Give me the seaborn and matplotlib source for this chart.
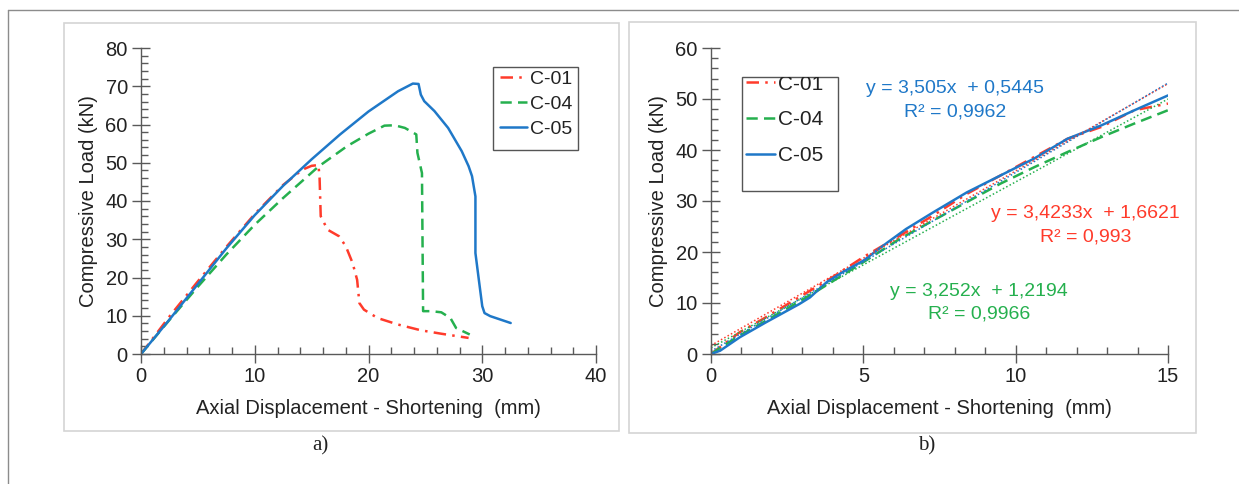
import numpy as np
import pandas as pd
import matplotlib
matplotlib.use("Agg")
import matplotlib.pyplot as plt
from matplotlib.lines import Line2D
from matplotlib.patches import Rectangle
from matplotlib.ticker import MultipleLocator
import seaborn as sns

# ---------------- data ----------------
specimens = ["C-01", "C-04", "C-05"]

# panel a) full curves
c01_x = [0, 2.5, 5.0, 7.5, 10.0, 12.5, 14.2, 15.0, 15.6, 15.7, 15.8, 16.4, 17.4, 18.0, 18.6, 19.0, 19.2, 19.6, 20.8, 22.6, 24.6, 26.4, 28.8]
c01_y = [0, 9.8, 19.0, 28.0, 36.6, 44.2, 48.2, 49.2, 49.4, 46.0, 36.0, 32.5, 30.8, 28.2, 23.8, 19.4, 13.3, 11.6, 9.4, 7.7, 6.2, 5.3, 4.2]

c04_x = [0, 2.5, 5.0, 7.5, 10.0, 12.5, 15.6, 18.1, 20.0, 21.4, 22.3, 23.2, 24.2, 24.3, 24.7, 24.8, 25.5, 26.4, 27.2, 27.7, 28.9]
c04_y = [0, 8.9, 17.6, 26.0, 33.8, 40.8, 49.0, 54.3, 57.6, 59.7, 59.8, 59.1, 57.4, 52.6, 47.3, 11.2, 11.2, 10.9, 9.4, 6.8, 5.1]

c05_x = [0, 2.5, 5.0, 7.5, 10.0, 12.5, 15.0, 17.5, 20.0, 22.6, 23.9, 24.4, 24.6, 24.9, 25.8, 27.0, 28.2, 28.8, 29.1, 29.4, 29.4, 29.7, 30.0, 30.2, 30.7, 32.5]
c05_y = [0, 9.0, 18.3, 27.6, 36.3, 44.0, 50.9, 57.4, 63.4, 68.7, 70.7, 70.6, 67.8, 66.1, 63.5, 59.1, 53.0, 49.1, 46.5, 41.2, 26.4, 19.4, 12.5, 10.7, 9.9, 8.1]

# panel b) linear part (0-15 mm)
b01_x = [0, 0.95, 1.8, 3.25, 4.0, 5.0, 6.2, 7.3, 8.4, 9.5, 10.6, 11.7, 12.8, 13.9, 15.0]
b01_y = [0, 4.3, 7.2, 12.4, 15.1, 19.0, 23.2, 27.2, 31.4, 35.0, 38.6, 42.2, 44.5, 47.8, 49.1]

b04_x = [0, 0.9, 1.8, 3.25, 5.0, 6.2, 7.3, 8.4, 9.5, 10.6, 11.7, 12.8, 13.9, 15.0]
b04_y = [0, 3.5, 6.5, 11.5, 18.0, 22.6, 26.2, 29.8, 33.4, 36.6, 39.6, 42.5, 45.2, 47.8]

b05_x = [0, 0.3, 0.95, 1.8, 2.9, 3.25, 3.8, 4.3, 5.0, 5.8, 6.4, 7.3, 8.4, 9.5, 10.6, 11.7, 12.8, 13.9, 15.0]
b05_y = [0, 0.65, 3.3, 6.2, 9.8, 11.1, 14.1, 16.0, 18.3, 21.9, 24.5, 27.8, 31.7, 35.0, 38.3, 42.2, 44.8, 47.8, 50.7]

# trendline coefficients (as printed on the chart)
trend_slope = [3.4233, 3.252, 3.505]
trend_icpt = [1.6621, 1.2194, 0.5445]
trend_eq = ["y = 3,4233x  + 1,6621", "y = 3,252x  + 1,2194", "y = 3,505x  + 0,5445"]
trend_r2 = ["R² = 0,993", "R² = 0,9966", "R² = 0,9962"]

# ---------------- style ----------------
sns.set_theme(style="white")
plt.rcParams["font.family"] = ["Liberation Sans", "DejaVu Sans"]

red = "#FF3B2B"
green = "#25B04E"
blue = "#1F78C8"
colors = [red, green, blue]
dashes = [(0, (5, 2.5, 1, 2.5)), (0, (4.5, 2.5)), "-"]
axis_col = "#595959"
txt_col = "#222222"
FS = 14.5

fig = plt.figure(figsize=(12.39, 4.84), dpi=100)
W, H = 1239, 484

def px(x0, y0, x1, y1):
    return [x0 / W, 1 - y1 / H, (x1 - x0) / W, (y1 - y0) / H]

# outer frame lines
fig.add_artist(Line2D([8 / W, 1.0], [1 - 9.5 / H, 1 - 9.5 / H], color="#8c8c8c", lw=1.0))
fig.add_artist(Line2D([8 / W, 8 / W], [0, 1 - 9.5 / H], color="#8c8c8c", lw=1.0))
# panel boxes
for (x0, y0, x1, y1) in [(64, 22.5, 619, 431), (629, 21.5, 1196, 433)]:
    fig.add_artist(Rectangle((x0 / W, 1 - y1 / H), (x1 - x0) / W, (y1 - y0) / H,
                             transform=fig.transFigure, fill=False, ec="#d4d4d4", lw=1.2))

AX_A = (141, 48, 596, 354)
AX_B = (711, 48, 1168, 354)
axA = fig.add_axes(px(*AX_A))
axB = fig.add_axes(px(*AX_B))

def frac(box, x, y):
    x0, y0, x1, y1 = box
    return (x - x0) / (x1 - x0), 1 - (y - y0) / (y1 - y0)

def frame(ax):
    for s in ["top", "right"]:
        ax.spines[s].set_visible(False)
    for s in ["left", "bottom"]:
        ax.spines[s].set_color(axis_col)
        ax.spines[s].set_linewidth(1.0)
    ax.tick_params(which="major", direction="inout", length=13, width=1.0, color=axis_col,
                   labelsize=FS, labelcolor=txt_col, pad=3)
    ax.tick_params(which="minor", direction="in", length=5, width=1.0, color=axis_col)
    ax.tick_params(axis="x", which="both", bottom=True)
    ax.tick_params(axis="y", which="both", left=True)
    ax.set_facecolor("white")
    ax.grid(False)

def manual_legend(ax, box, rect, first_center, fs, spacing_px, hx):
    (fx0, fy1) = frac(box, rect[0], rect[1])
    (fx1, fy0) = frac(box, rect[2], rect[3])
    frame_patch = Rectangle((fx0, fy0), fx1 - fx0, fy1 - fy0, transform=ax.transAxes,
                            fill=False, ec="#555555", lw=1.0, zorder=5, clip_on=False)
    ax.add_patch(frame_patch)
    row_px = fs * 100 / 72
    h, l = ax.get_legend_handles_labels()
    top = first_center - row_px / 2
    ax_, ay_ = frac(box, hx, top)
    leg = ax.legend(h[:3], l[:3], loc="upper left", bbox_to_anchor=(ax_, ay_),
                    frameon=False, fontsize=fs, handlelength=1.4, handletextpad=0.15,
                    labelspacing=(spacing_px - row_px) / row_px, borderpad=0, borderaxespad=0)
    for t in leg.get_texts():
        t.set_color(txt_col)
        t.set_clip_on(True)
        t.set_clip_path(frame_patch)
    return leg

# ---- panel a ----
series_a = [(c01_x, c01_y), (c04_x, c04_y), (c05_x, c05_y)]
for name, (xs, ys), c, d in zip(specimens, series_a, colors, dashes):
    df = pd.DataFrame({"x": xs, "y": ys})
    sns.lineplot(data=df, x="x", y="y", ax=axA, color=c, lw=1.8, sort=False,
                 estimator=None, label=name, linestyle=d)
axA.set_xlim(0, 40)
axA.set_ylim(0, 80)
axA.xaxis.set_major_locator(MultipleLocator(10))
axA.xaxis.set_minor_locator(MultipleLocator(2))
axA.yaxis.set_major_locator(MultipleLocator(10))
axA.yaxis.set_minor_locator(MultipleLocator(2))
frame(axA)
axA.set_xlabel("Axial Displacement - Shortening  (mm)", fontsize=FS, color=txt_col, labelpad=9)
axA.set_ylabel("Compressive Load (kN)", fontsize=FS, color=txt_col, labelpad=5)
manual_legend(axA, AX_A, (493, 67, 578, 150), 80, 14, 27, 500)

# ---- panel b ----
series_b = [(b01_x, b01_y), (b04_x, b04_y), (b05_x, b05_y)]
for name, (xs, ys), c, d in zip(specimens, series_b, colors, dashes):
    df = pd.DataFrame({"x": xs, "y": ys})
    sns.lineplot(data=df, x="x", y="y", ax=axB, color=c, lw=1.8, sort=False,
                 estimator=None, label=name, linestyle=d)
xt = np.array([0.0, 15.0])
for m, b, c in zip(trend_slope, trend_icpt, colors):
    axB.plot(xt, m * xt + b, color=c, lw=1.1, linestyle=(0, (1, 1.5)))
axB.set_xlim(0, 15)
axB.set_ylim(0, 60)
axB.xaxis.set_major_locator(MultipleLocator(5))
axB.xaxis.set_minor_locator(MultipleLocator(1))
axB.yaxis.set_major_locator(MultipleLocator(10))
axB.yaxis.set_minor_locator(MultipleLocator(2))
frame(axB)
axB.set_xlabel("Axial Displacement - Shortening  (mm)", fontsize=FS, color=txt_col, labelpad=9)
axB.set_ylabel("Compressive Load (kN)", fontsize=FS, color=txt_col, labelpad=5)
manual_legend(axB, AX_B, (742, 77, 838, 191), 85, 15, 37.5, 746)

# trendline equations (placed in data coordinates)
eq_pos = [(12.3, 27.6, 22.9), (8.8, 12.35, 7.8), (8.0, 52.0, 47.5)]
for (xp, y1, y2), eq, r2, c in zip(eq_pos, trend_eq, trend_r2, colors):
    axB.text(xp, y1, eq, color=c, fontsize=14, ha="center", va="center")
    axB.text(xp, y2, r2, color=c, fontsize=14, ha="center", va="center")

# captions
fig.text(320 / W, 1 - 446 / H, "a)", fontsize=15, family=["Liberation Serif", "DejaVu Serif"],
         ha="center", va="center", color=txt_col)
fig.text(927 / W, 1 - 446 / H, "b)", fontsize=15, family=["Liberation Serif", "DejaVu Serif"],
         ha="center", va="center", color=txt_col)

fig.savefig("out.png", dpi=100, facecolor="white")
